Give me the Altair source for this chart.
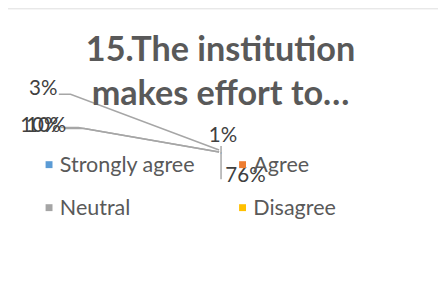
import altair as alt
import pandas as pd

# ---- data ----
categories = ["Strongly agree", "Agree", "Neutral", "Disagree", "Strongly disagree"]
values = [76, 10, 10, 3, 1]
legend_items = ["Strongly agree", "Agree", "Neutral", "Disagree"]
colors = ["#5B9BD5", "#ED7D31", "#A5A5A5", "#FFC000"]

# label anchor layout (where the broken Excel pie left its data labels)
label_x = [251, 41, 47, 44, 228]
label_y = [177, 126, 126, 88, 136]

# leader line paths: one per label (category index, point order, x, y)
leader_cat = [0, 0, 1, 1, 1, 2, 2, 2, 3, 3, 3]
leader_ord = [0, 1, 0, 1, 2, 0, 1, 2, 0, 1, 2]
leader_x = [226, 226, 62, 80, 224, 66, 86, 224, 60, 72, 224]
leader_y = [146, 180, 127, 127, 152, 128, 128, 152, 93, 93, 150]

center_x = [226]
center_y = [153]

pie_df = pd.DataFrame({
    "category": categories,
    "value": values,
    "cx": center_x * len(categories),
    "cy": center_y * len(categories),
})
lab_df = pd.DataFrame({
    "category": categories,
    "label": [f"{v}%" for v in values],
    "x": label_x,
    "y": label_y,
})
lead_df = pd.DataFrame({
    "cat": leader_cat,
    "ord": leader_ord,
    "x": leader_x,
    "y": leader_y,
})

W, H = 445, 287
xs = alt.Scale(domain=[3, 3 + W], range=[0, W])
ys = alt.Scale(domain=[5, 5 + H], range=[0, H])

lines = alt.Chart(lead_df).mark_line(color="#A6A6A6", strokeWidth=1.5).encode(
    x=alt.X("x:Q", scale=xs, axis=None),
    y=alt.Y("y:Q", scale=ys, axis=None),
    detail="cat:N",
    order="ord:Q",
)

pie = alt.Chart(pie_df).mark_arc(radius=0.6).encode(
    x=alt.X("cx:Q", scale=xs, axis=None),
    y=alt.Y("cy:Q", scale=ys, axis=None),
    theta=alt.Theta("value:Q", stack=True),
    color=alt.Color(
        "category:N",
        scale=alt.Scale(domain=legend_items, range=colors),
        legend=alt.Legend(
            title=None,
            orient="none",
            direction="horizontal",
            legendX=36,
            legendY=149,
            columns=2,
            symbolType="square",
            symbolSize=50,
            symbolStrokeWidth=0,
            labelFont="Lato",
            labelFontSize=22,
            labelColor="#595959",
            labelOffset=0,
            columnPadding=37,
            rowPadding=22,
        ),
    ),
    order=alt.Order("value:Q", sort="descending"),
)

labels = alt.Chart(lab_df).mark_text(
    font="Lato", fontSize=21, color="#404040", align="center", baseline="middle"
).encode(
    x=alt.X("x:Q", scale=xs, axis=None),
    y=alt.Y("y:Q", scale=ys, axis=None),
    text="label:N",
)

chart = alt.layer(lines, pie, labels).properties(
    width=W,
    height=H,
    autosize=alt.AutoSizeParams(type="none"),
    padding={"left": -5, "top": -3, "right": 0, "bottom": 0},
    title=alt.TitleParams(
        ["15.The institution", "makes effort to…"],
        font="Lato",
        fontSize=35,
        fontWeight="bold",
        color="#595959",
        anchor="middle",
        frame="group",
        orient="top",
        baseline="top",
        offset=0,
        dy=106,
        lineHeight=45,
    ),
).configure_view(stroke="#D9D9D9", strokeWidth=1.5).configure(background="white")

chart.save("out.html", embed_options={"renderer": "svg", "actions": False})
